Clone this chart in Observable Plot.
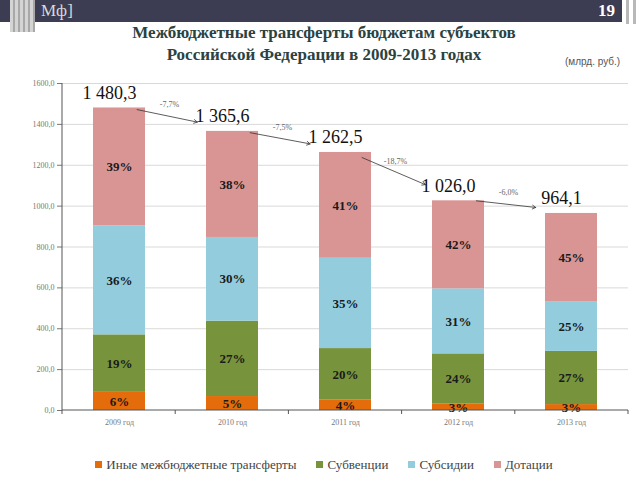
<!DOCTYPE html>
<html><head><meta charset="utf-8">
<script src="https://cdn.jsdelivr.net/npm/d3@7"></script>
<script src="https://cdn.jsdelivr.net/npm/@observablehq/plot@0.6"></script>
<style>
body{margin:0;width:640px;height:480px;position:relative;background:#fff;overflow:hidden;font-family:"Liberation Serif","Times New Roman",serif}
#bar{position:absolute;left:0;top:0;width:622px;height:22px;background:#3c3c52}
#logo{position:absolute;left:10px;top:0;width:25px;height:32px;background:repeating-linear-gradient(90deg,#d4d4d4 0 3px,#a8a8a8 3px 5px);z-index:2}
#mf{position:absolute;left:41px;top:0;color:#d8d8d8;font-size:17px;line-height:22px;font-family:"Liberation Serif",serif}
#num{position:absolute;left:598px;top:0;color:#fff;font-weight:bold;font-size:17px;line-height:22px;font-family:"Liberation Serif",serif}
.stripe{position:absolute;top:0;height:24px;width:3px;background:#b8b8b8}
#title{position:absolute;left:0;top:22px;width:640px;text-align:center;font-weight:bold;font-size:17px;line-height:22px;color:#2b4240;padding-left:4px;font-family:"Liberation Serif",serif}
#unit{position:absolute;left:565px;top:56px;font-family:"Liberation Sans",sans-serif;font-size:10px;color:#555}
#chart{position:absolute;left:0;top:70px}
#legend{position:absolute;left:0;top:457px;width:640px;display:flex;justify-content:center;gap:20px;font-size:13px;color:#444;padding-left:4px;font-family:"Liberation Serif",serif}
#legend span.sw{display:inline-block;width:7px;height:7px;margin-right:4px;vertical-align:1px}
</style></head><body>
<div id="bar"></div><div id="logo"></div><div id="mf">Мф]</div><div id="num">19</div>
<div class="stripe" style="left:626px"></div><div class="stripe" style="left:633px"></div>
<div id="title">Межбюджетные трансферты бюджетам субъектов<br>Российской Федерации в 2009-2013 годах</div>
<div id="unit">(млрд. руб.)</div>
<div id="chart"></div>
<div id="legend"></div>
<script>
const years = ["2009 год", "2010 год", "2011 год", "2012 год", "2013 год"];
const totals = [1480.3, 1365.6, 1262.5, 1026.0, 964.1];
const categories = ["Иные межбюджетные трансферты", "Субвенции", "Субсидии", "Дотации"];
const sharesOther = [6, 5, 4, 3, 3];
const sharesSubventions = [19, 27, 20, 24, 27];
const sharesSubsidies = [36, 30, 35, 31, 25];
const sharesDotations = [39, 38, 41, 42, 45];
const changeLabels = ["-7,7%", "-7,5%", "-18,7%", "-6,0%"];
const colors = ["#e46c0a", "#77933c", "#93cddd", "#d99594"];
const yTicks = [0, 200, 400, 600, 800, 1000, 1200, 1400, 1600];

const shares = [sharesOther, sharesSubventions, sharesSubsidies, sharesDotations];
const data = [];
years.forEach((y, i) => categories.forEach((c, k) => {
  data.push({year: y, category: c, share: shares[k][i], value: totals[i] * shares[k][i] / 100});
}));
const totalData = years.map((y, i) => ({year: y, total: totals[i]}));
const transitions = changeLabels.map((l, i) => ({from: years[i], to: years[i + 1], t1: totals[i], t2: totals[i + 1], label: l}));

const ru = d3.formatLocale({decimal: ",", thousands: "\u00a0", grouping: [3], currency: ["", ""]});
const fmtTotal = ru.format(",.1f");
const fmtTick = d => d3.format(".1f")(d).replace(".", ",");

const SERIF = "Liberation Serif";
const ML = 62, MR = 12, MT = 13, MB = 30, W = 640, H = 370;

const axesLines = (index, scales, values, dims) => {
  const g = d3.create("svg:g");
  const x0 = dims.marginLeft, x1 = dims.width - dims.marginRight;
  const y0 = dims.height - dims.marginBottom, yt = dims.marginTop;
  g.append("line").attr("x1", x0).attr("x2", x0).attr("y1", yt).attr("y2", y0).attr("stroke", "#555");
  g.append("line").attr("x1", x0).attr("x2", x1).attr("y1", y0).attr("y2", y0).attr("stroke", "#555");
  const step = (x1 - x0) / years.length;
  for (let k = 0; k <= years.length; k++) {
    g.append("line").attr("x1", x0 + k * step).attr("x2", x0 + k * step).attr("y1", y0).attr("y2", y0 + 4).attr("stroke", "#555");
  }
  return g.node();
};

const chart = Plot.plot({
  width: W, height: H, marginLeft: ML, marginRight: MR, marginTop: MT, marginBottom: MB,
  style: {fontFamily: SERIF, fontSize: "8px", color: "#777", background: "transparent"},
  x: {domain: years, paddingInner: 0.54, paddingOuter: 0.27, label: null, tickSize: 0, tickPadding: 9},
  y: {domain: [0, 1600], ticks: yTicks, tickFormat: fmtTick, label: null, tickSize: 5, tickPadding: 3},
  color: {domain: categories, range: colors},
  marks: [
    Plot.ruleY(yTicks.slice(1), {stroke: "#d9d9d9"}),
    Plot.barY(data, {x: "year", y: "value", fill: "category", z: "category"}),
    Plot.text(data, Plot.stackY({x: "year", y: "value", z: "category", text: d => d.share + "%", fill: "#1a1a1a", fontWeight: "bold", fontSize: 13, fontFamily: SERIF})),
    axesLines,
    Plot.arrow(transitions, {x1: "from", y1: "t1", x2: "to", y2: "t2", insetStart: 18, insetEnd: 36, headLength: 7, stroke: "#333", strokeWidth: 0.8, dy: -2}),
    Plot.text(transitions, {x: "from", y: d => (d.t1 + d.t2) / 2, text: "label", dx: 50, dy: -15, fontSize: 8, fill: "#666", fontFamily: SERIF}),
    Plot.text(totalData, {x: "year", y: "total", text: d => fmtTotal(d.total), dx: -10, dy: -15, fontSize: 18, fill: "#111", fontFamily: SERIF})
  ]
});
document.getElementById("chart").appendChild(chart);

const legend = document.getElementById("legend");
categories.forEach((c, k) => {
  const item = document.createElement("div");
  item.innerHTML = `<span class="sw" style="background:${colors[k]}"></span>${c}`;
  legend.appendChild(item);
});
</script>
</body></html>
